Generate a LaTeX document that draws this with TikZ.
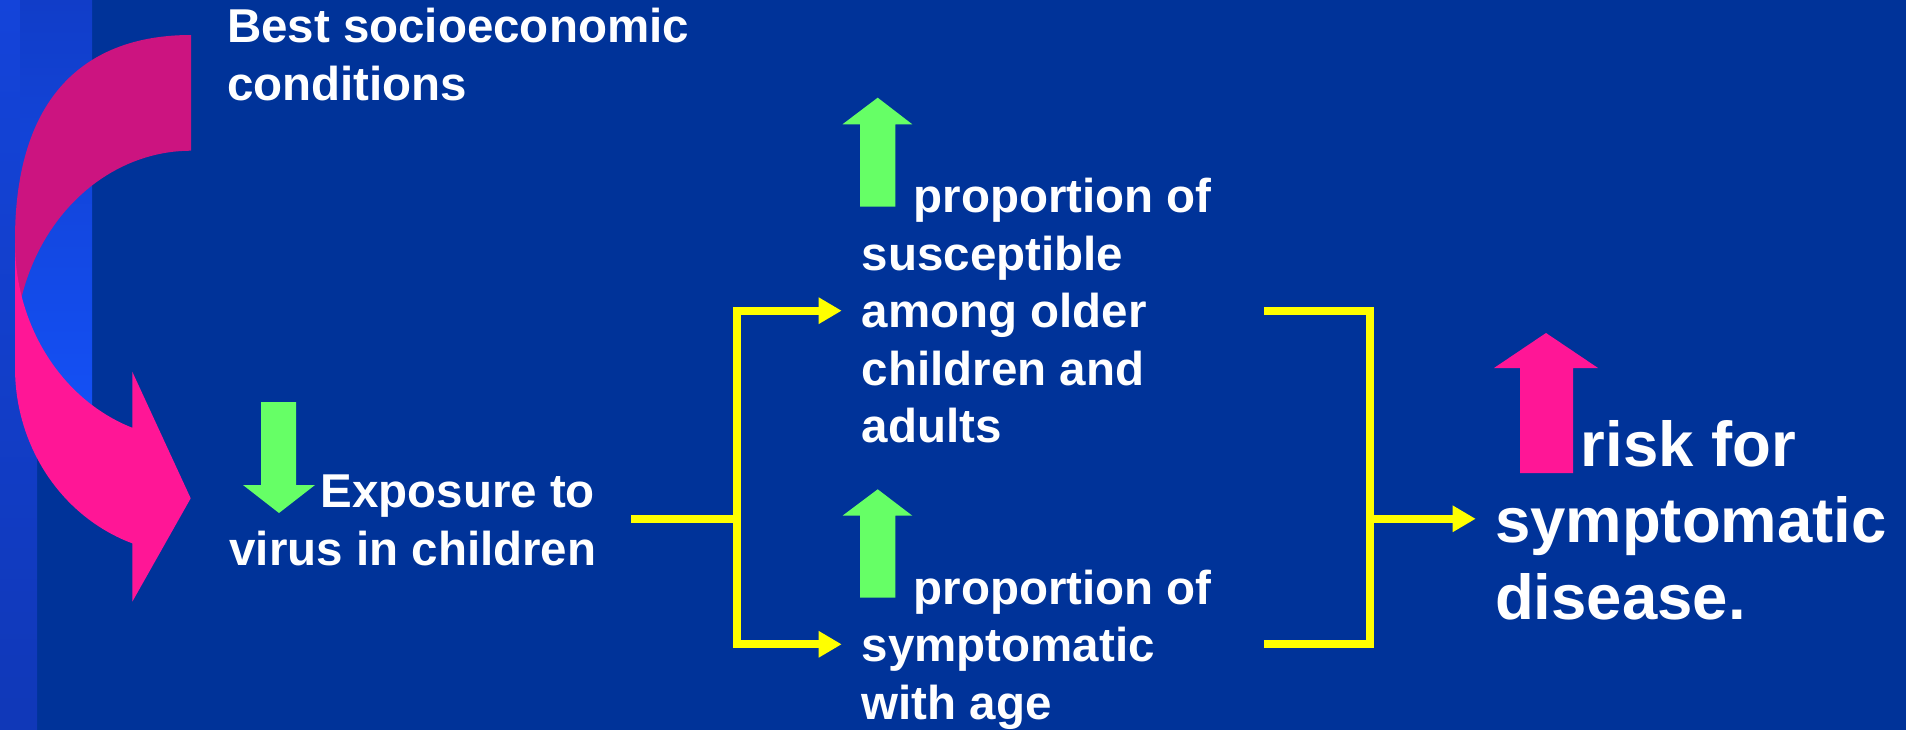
\documentclass[tikz,border=0pt]{standalone}
\usepackage{fontspec}
\setmainfont{Liberation Sans}
\usetikzlibrary{arrows.meta}
\definecolor{bg}{RGB}{0,51,153}
\definecolor{stripeA}{RGB}{20,68,218}
\definecolor{stripeB}{RGB}{17,61,200}
\definecolor{stripeM}{RGB}{20,80,245}
\definecolor{stripeD}{RGB}{16,56,184}
\definecolor{pinkdark}{RGB}{204,20,128}
\definecolor{pinkbright}{RGB}{255,22,150}
\definecolor{arrgreen}{RGB}{102,255,102}
\definecolor{conn}{RGB}{255,255,0}
\begin{document}
\begin{tikzpicture}[x=1pt,y=-1pt,
  txt/.style={text=white, font=\fontsize{47.5}{57.5}\selectfont\bfseries, align=left, anchor=base west, inner sep=0pt, outer sep=0pt},
  bigtxt/.style={text=white, font=\fontsize{63.5}{76.5}\selectfont\bfseries, align=left, anchor=base west, inner sep=0pt, outer sep=0pt},
  yl/.style={draw=conn, line width=8pt, line join=miter},
  ytip/.style={-{Triangle[length=23pt,width=25pt]}},
  greenarrow/.style={fill=arrgreen},
  pinkarrow/.style={fill=pinkbright}]
\useasboundingbox (0,0) rectangle (1906,730);
\fill[bg] (0,0) rectangle (1906,730);
% left stripes
\shade[top color=stripeA, middle color=stripeM, bottom color=stripeD] (0,0) rectangle (37,730);
\shade[top color=stripeB, bottom color=stripeM] (20,0) rectangle (92,407);
% curved arrow, back band
\fill[pinkdark] (191,35) .. controls (85.4,35) and (15,96.5) .. (15,240) -- (15,297)
  -- plot[domain=195.85:270, samples=40, variable=\t] ({191+176*cos(\t)},{351.5+200.8*sin(\t)}) -- cycle;
% curved arrow, front band with head
\fill[pinkbright] (15,243) -- (15,368)
  -- plot[domain=180:109.48, samples=40, variable=\t] ({191+176*cos(\t)},{368+186*sin(\t)})
  -- (132.3,601.7) -- (190.7,498.3) -- (132.3,371.7)
  -- plot[domain=109.48:180, samples=40, variable=\t] ({191+176*cos(\t)},{243+196*sin(\t)}) -- cycle;
% texts (base anchor = baseline of the last line)
\node[txt] (best) at (227,100.5) {Best socioeconomic\\conditions};
\node[txt] (expo) at (229.5,565) {\hspace*{91pt}Exposure to\\virus in children};
\node[txt] (prop1) at (861.8,442.7) {\hspace*{51.8pt}proportion of\\susceptible\\among older\\children and\\adults};
\node[txt] (prop2) at (861.8,719.3) {\hspace*{51.8pt}proportion of\\symptomatic\\with age};
\node[bigtxt] (risk) at (1495,619) {\hspace*{85.8pt}risk for\\symptomatic\\disease.};
% small block arrows
\fill[greenarrow] (261,402) -- (296,402) -- (296,485) -- (315,485) -- (279,513) -- (243,485) -- (261,485) -- cycle;
\fill[greenarrow] (860,206.7) -- (860,124.3) -- (842.5,124.3) -- (877.7,97.7) -- (912.3,124.3) -- (895.3,124.3) -- (895.3,206.7) -- cycle;
\fill[greenarrow] (860,597.7) -- (860,515.7) -- (842.5,515.7) -- (877.7,489.3) -- (912.3,515.7) -- (895.3,515.7) -- (895.3,597.7) -- cycle;
\fill[pinkarrow] (1520,473) -- (1520,368) -- (1494,368) -- (1546,333) -- (1598,368) -- (1573,368) -- (1573,473) -- cycle;
% connectors
\coordinate (expoOut) at (631,518.8);
\coordinate (split) at (736.7,518.8);
\coordinate (prop1In) at (841.7,310.7);
\coordinate (prop2In) at (841.7,644.3);
\coordinate (prop1Out) at (1264.3,310.7);
\coordinate (prop2Out) at (1264.3,644.3);
\coordinate (join) at (1370,518.8);
\coordinate (riskIn) at (1475.7,518.8);
\draw[yl] (expoOut) -- (split);
\draw[yl,ytip] (split) |- (prop1In);
\draw[yl,ytip] (split) |- (prop2In);
\draw[yl] (prop1Out) -| (join) |- (prop2Out);
\draw[yl,ytip] (join) -- (riskIn);
\end{tikzpicture}
\end{document}
